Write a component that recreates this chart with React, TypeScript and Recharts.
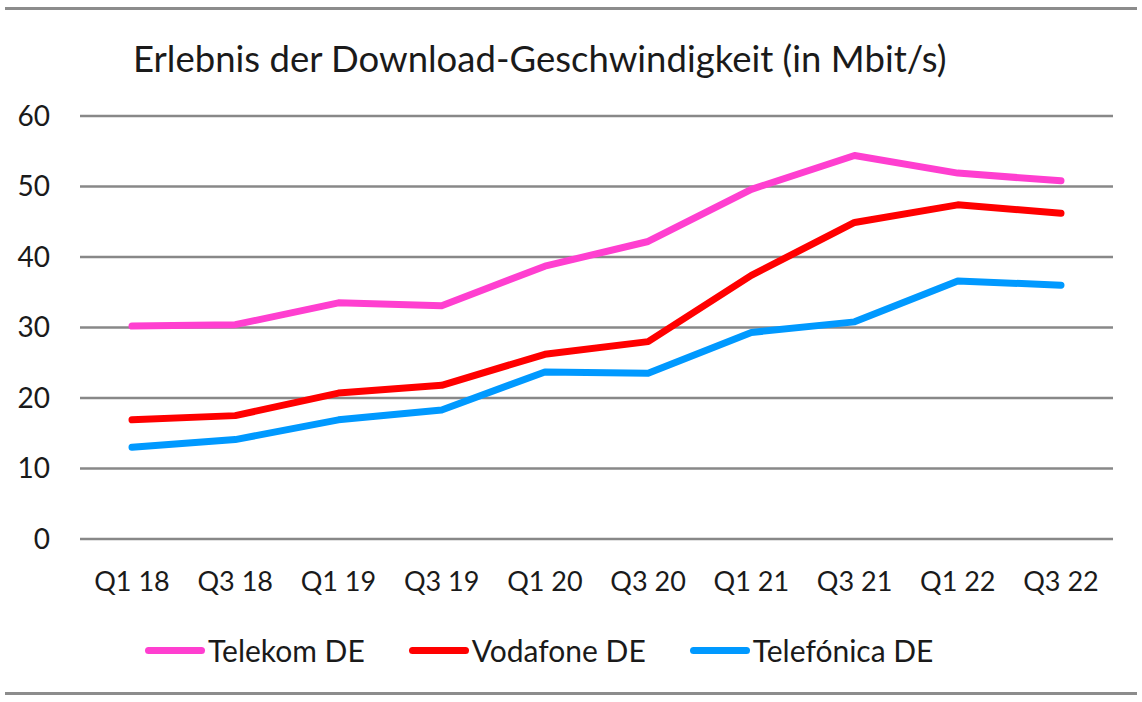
import { LineChart, Line, XAxis, YAxis, CartesianGrid } from 'recharts';

const quarters = ['Q1 18', 'Q3 18', 'Q1 19', 'Q3 19', 'Q1 20', 'Q3 20', 'Q1 21', 'Q3 21', 'Q1 22', 'Q3 22'];
const telekom = [30.2, 30.4, 33.5, 33.1, 38.7, 42.2, 49.6, 54.4, 51.9, 50.8];
const vodafone = [16.9, 17.5, 20.7, 21.8, 26.2, 28.0, 37.4, 44.9, 47.4, 46.2];
const telefonica = [13.0, 14.1, 16.9, 18.3, 23.7, 23.5, 29.3, 30.8, 36.6, 36.0];
const yTicks = [0, 10, 20, 30, 40, 50, 60];

const series = [
  { key: 'telekom', name: 'Telekom DE', color: '#ff3fd0' },
  { key: 'vodafone', name: 'Vodafone DE', color: '#ff0000' },
  { key: 'telefonica', name: 'Telefónica DE', color: '#0099ff' },
];

const data = quarters.map((q, i) => ({
  q,
  telekom: telekom[i],
  vodafone: vodafone[i],
  telefonica: telefonica[i],
}));

const FONT = 'Lato, "Open Sans", sans-serif';
const TEXT = '#1a1a1a';

// legend sits under the plot, like the Excel original
function LegendRow() {
  return (
    <div style={{ position: 'absolute', left: 145, top: 632, display: 'flex', alignItems: 'center', gap: 44, fontFamily: FONT, fontSize: 30, color: TEXT }}>
      {series.map((s) => (
        <div key={s.key} style={{ display: 'flex', alignItems: 'center' }}>
          <div style={{ width: 60, height: 7, borderRadius: 4, background: s.color, marginRight: 3 }} />
          <span>{s.name}</span>
        </div>
      ))}
    </div>
  );
}

export default function App() {
  return (
    <div style={{ position: 'absolute', left: 0, top: 0, width: 1142, height: 702, background: '#fff', overflow: 'hidden' }}>
      <div style={{ position: 'absolute', left: 5, right: 5, top: 7, height: 3, background: '#8c8c8c' }} />
      <div style={{ position: 'absolute', left: 5, right: 5, top: 692, height: 3, background: '#8c8c8c' }} />
      <div style={{ position: 'absolute', left: 133, top: 36, fontFamily: FONT, fontSize: 36.5, color: TEXT, whiteSpace: 'nowrap' }}>
        Erlebnis der Download-Geschwindigkeit (in Mbit/s)
      </div>
      <LineChart width={1142} height={702} data={data} margin={{ top: 116, right: 29, left: 0, bottom: 103 }}>
        <CartesianGrid vertical={false} stroke="#888888" strokeWidth={2.5} />
        <XAxis
          dataKey="q"
          axisLine={false}
          tickLine={false}
          tickSize={0}
          tickMargin={33}
          height={60}
          padding={{ left: 52, right: 52 }}
          interval={0}
          tick={{ fontSize: 27, fill: TEXT, fontFamily: FONT }}
        />
        <YAxis
          width={80}
          domain={[0, 60]}
          ticks={yTicks}
          axisLine={false}
          tickLine={false}
          tickSize={0}
          tickMargin={30}
          tick={{ fontSize: 28, fill: TEXT, fontFamily: FONT }}
        />
        {series.map((s) => (
          <Line
            key={s.key}
            type="linear"
            dataKey={s.key}
            name={s.name}
            stroke={s.color}
            strokeWidth={7}
            strokeLinecap="round"
            strokeLinejoin="round"
            dot={false}
            isAnimationActive={false}
          />
        ))}
      </LineChart>
      <LegendRow />
    </div>
  );
}
